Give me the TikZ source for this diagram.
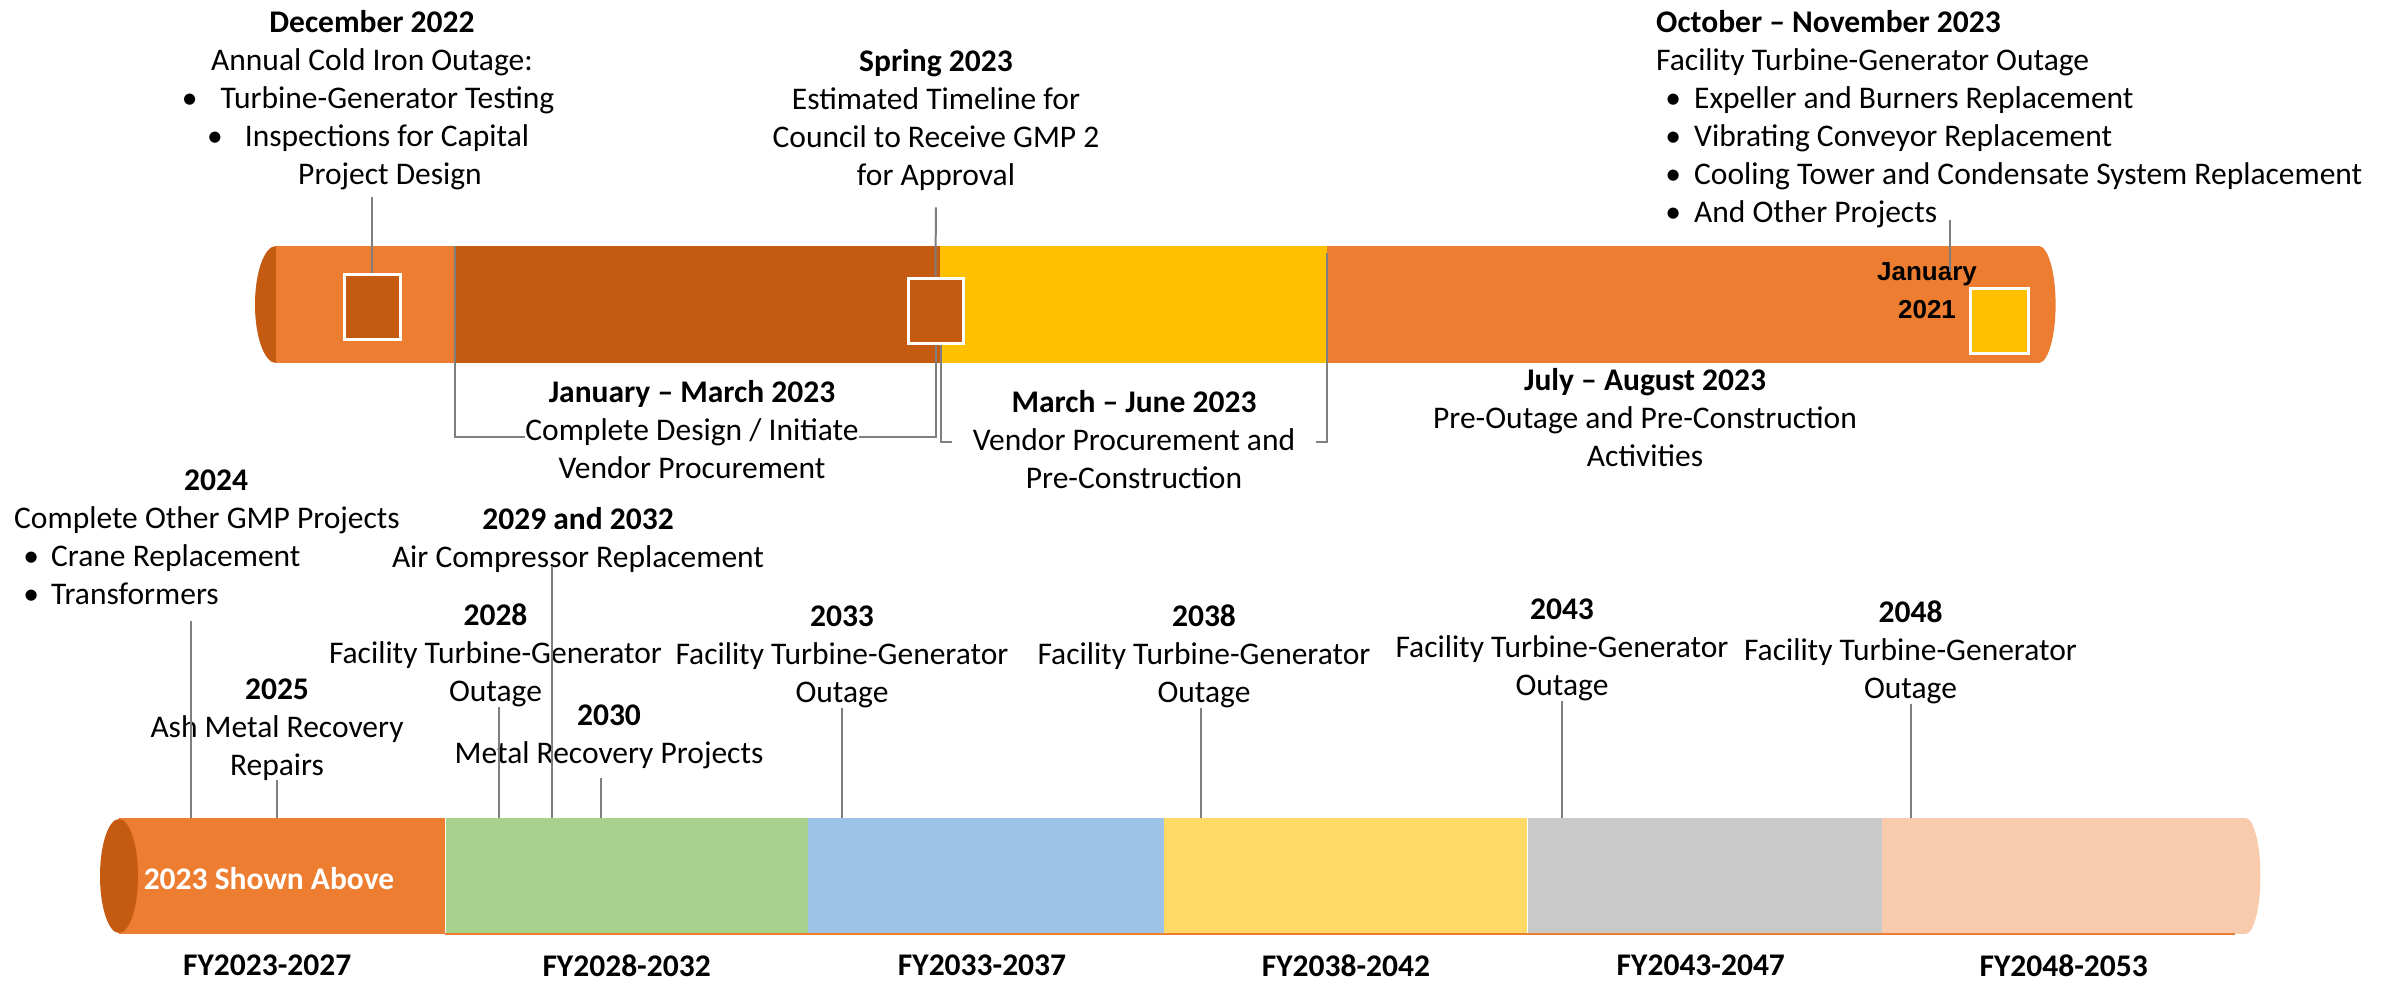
\documentclass[tikz,border=0pt]{standalone}
\usepackage{fontspec}
\setmainfont{Carlito}
\newfontfamily\arialfont{Liberation Sans}
\usetikzlibrary{positioning}

\definecolor{barorange}{HTML}{ED7D31}
\definecolor{bardark}{HTML}{C55A11}
\definecolor{bargold}{HTML}{FFC000}
\definecolor{bargreen}{HTML}{A9D18E}
\definecolor{barblue}{HTML}{9DC3E6}
\definecolor{baryellow}{HTML}{FFD966}
\definecolor{bargray}{HTML}{C9C9C9}
\definecolor{barpeach}{HTML}{F8CBAD}
\definecolor{leadgray}{HTML}{7F7F7F}

\newcommand{\tbul}[1]{\makebox[0pt]{\textbullet}\hspace*{#1}}

\tikzset{
  seg/.style={rectangle,inner sep=0pt,minimum height=117pt},
  marker/.style={rectangle,draw=white,line width=3pt,inner sep=0pt,minimum height=65pt},
  txt/.style={font=\fontsize{31.5}{38}\selectfont,inner sep=0pt,align=center,anchor=base},
  ltxt/.style={txt,align=left,anchor=base west},
  fy/.style={font=\fontsize{31.5}{38}\selectfont\bfseries,inner sep=0pt},
  leader/.style={draw=leadgray,line width=2pt},
}

\begin{document}
\begin{tikzpicture}[x=1pt,y=-1pt]
        \useasboundingbox (0,0) rectangle (2399,980);
        %% 2023 bar
        \fill[bardark] (276,304.5) ellipse[x radius=21,y radius=58.5];
        \node[seg,fill=barorange,minimum width=179pt,anchor=west] (t1) at (276,304.5) {};
        \node[seg,fill=bardark,minimum width=484pt,right=0pt of t1] (t2) {};
        \node[seg,fill=bargold,minimum width=387pt,right=0pt of t2] (t3) {};
        \node[seg,fill=barorange,minimum width=711pt,right=0pt of t3] (t4) {};
        \fill[barorange] (t4.east) ellipse[x radius=17,y radius=58.5];
        %% Markers
        \node[marker,fill=bardark,minimum width=56pt] (sqA) at (372,306.5) {};
        \node[marker,fill=bardark,minimum width=55pt] (sqB) at (935.5,310.5) {};
        \node[marker,fill=bargold,minimum width=58pt] (sqC) at (1999,320.5) {};
        \node[font=\arialfont\bfseries\fontsize{26}{38}\selectfont,align=center,inner sep=0pt,anchor=base] (njan21) at (1927,318) {January\\2021};
        %% Labels above the 2023 bar
        \node[txt] (ndec22) at (372,184) {\textbf{December 2022}\\Annual Cold Iron Outage:\\\tbul{31pt}Turbine-Generator Testing\\\tbul{30pt}Inspections for Capital\\\hspace*{36pt}Project Design};
        \node[txt] (nspr23) at (936,185) {\textbf{Spring 2023}\\Estimated Timeline for\\Council to Receive GMP 2\\for Approval};
        \node[ltxt] (noct23) at (1656,222) {\textbf{October – November 2023}\\Facility Turbine-Generator Outage\\\hspace*{17pt}\tbul{21pt}Expeller and Burners Replacement\\\hspace*{17pt}\tbul{21pt}Vibrating Conveyor Replacement\\\hspace*{17pt}\tbul{21pt}Cooling Tower and Condensate System Replacement\\\hspace*{17pt}\tbul{21pt}And Other Projects};
        \coordinate (octtip) at (1950,220);
        \coordinate (octend) at (1950,272);
        %% Leaders
        \draw[leader,shorten <=7pt] (ndec22.south) -- (sqA.north);
        \draw[leader,shorten <=17pt] (nspr23.south) -- (sqB.north);
        \draw[leader] (octtip) -- (octend);
        \draw[leader] (t2.north west) -- ++(0,191) -| (sqB.south);
        \draw[leader] ([xshift=5pt]sqB.south) -- ++(0,97) -| ([yshift=-7pt]t4.north west);
        %% Labels below the 2023 bar
        \node[txt,fill=white] (njan23) at (692,478) {\textbf{January – March 2023}\\Complete Design / Initiate\\Vendor Procurement};
        \node[txt,fill=white,inner xsep=21pt] (nmar23) at (1134,488) {\textbf{March – June 2023}\\Vendor Procurement and\\Pre-Construction};
        \node[txt] (njul23) at (1645,466) {\textbf{July – August 2023}\\Pre-Outage and Pre-Construction\\Activities};

        %% Long range bar
        \node[seg,fill=barorange,minimum width=326pt,minimum height=116pt,anchor=west] (b1) at (119,876) {};
        \node[seg,fill=bargreen,minimum width=362pt,minimum height=116pt,right=0pt of b1] (b2) {};
        \node[seg,fill=barblue,minimum width=356pt,minimum height=116pt,right=0pt of b2] (b3) {};
        \node[seg,fill=baryellow,minimum width=363pt,minimum height=116pt,right=0pt of b3] (b4) {};
        \node[seg,fill=bargray,minimum width=354pt,minimum height=116pt,right=0pt of b4] (b5) {};
        \node[seg,fill=barpeach,minimum width=363pt,minimum height=116pt,right=0pt of b5] (b6) {};
        \fill[barpeach] (b6.east) ellipse[x radius=15,y radius=58];
        \fill[bardark] (b1.west) ellipse[x radius=19,y radius=57];
        \draw[barorange,line width=1.5pt] (b2.south west) -- ([xshift=-10pt]b6.south east);
        \node[fy,white] (shown) at (269,879) {2023 Shown Above};
        %% Fiscal years
        \node[fy,below=20pt of b1,xshift=-15pt] (fy1) {FY2023-2027};
        \node[fy,below=20pt of b2] (fy2) {FY2028-2032};
        \node[fy,below=20pt of b3,xshift=-4pt] (fy3) {FY2033-2037};
        \node[fy,below=20pt of b4] (fy4) {FY2038-2042};
        \node[fy,below=20pt of b5,xshift=-4pt] (fy5) {FY2043-2047};
        \node[fy,below=20pt of b6] (fy6) {FY2048-2053};
        %% Project labels
        \node[ltxt] (n2024) at (14,604) {\hspace*{170pt}\textbf{2024}\\Complete Other GMP Projects\\\hspace*{17pt}\tbul{20pt}Crane Replacement\\\hspace*{17pt}\tbul{20pt}Transformers};
        \node[txt] (n2025) at (277,775) {\textbf{2025}\\Ash Metal Recovery\\Repairs};
        \node[txt] (n2029) at (578,567) {\textbf{2029 and 2032}\\Air Compressor Replacement};
        \node[txt] (n2028) at (495.5,701) {\textbf{2028}\\Facility Turbine-Generator\\Outage};
        \node[txt] (n2030) at (609,763) {\textbf{2030}\\Metal Recovery Projects};
        \node[txt] (n2033) at (842,702) {\textbf{2033}\\Facility Turbine-Generator\\Outage};
        \node[txt] (n2038) at (1204,702) {\textbf{2038}\\Facility Turbine-Generator\\Outage};
        \node[txt] (n2043) at (1562,695) {\textbf{2043}\\Facility Turbine-Generator\\Outage};
        \node[txt] (n2048) at (1910.5,698) {\textbf{2048}\\Facility Turbine-Generator\\Outage};
        %% Leaders
        \draw[leader] ([xshift=-16pt,yshift=-17pt]n2024.south) coordinate (l2024) -- (l2024 |- b1.north);
        \draw[leader] (n2025.south) -- (n2025.south |- b1.north);
        \draw[leader] ([xshift=-26pt,yshift=6pt]n2029.south) coordinate (l2029) -- (l2029 |- b2.north);
        \draw[leader] ([xshift=3pt]n2028.south) coordinate (l2028) -- (l2028 |- b2.north);
        \draw[leader] ([xshift=-8pt,yshift=-9pt]n2030.south) coordinate (l2030) -- (l2030 |- b2.north);
        \draw[leader] (n2033.south) -- (n2033.south |- b3.north);
        \draw[leader] ([xshift=-3pt]n2038.south) coordinate (l2038) -- (l2038 |- b4.north);
        \draw[leader] (n2043.south) -- (n2043.south |- b5.north);
        \draw[leader] (n2048.south) -- (n2048.south |- b6.north);
    \end{tikzpicture}
\end{document}
